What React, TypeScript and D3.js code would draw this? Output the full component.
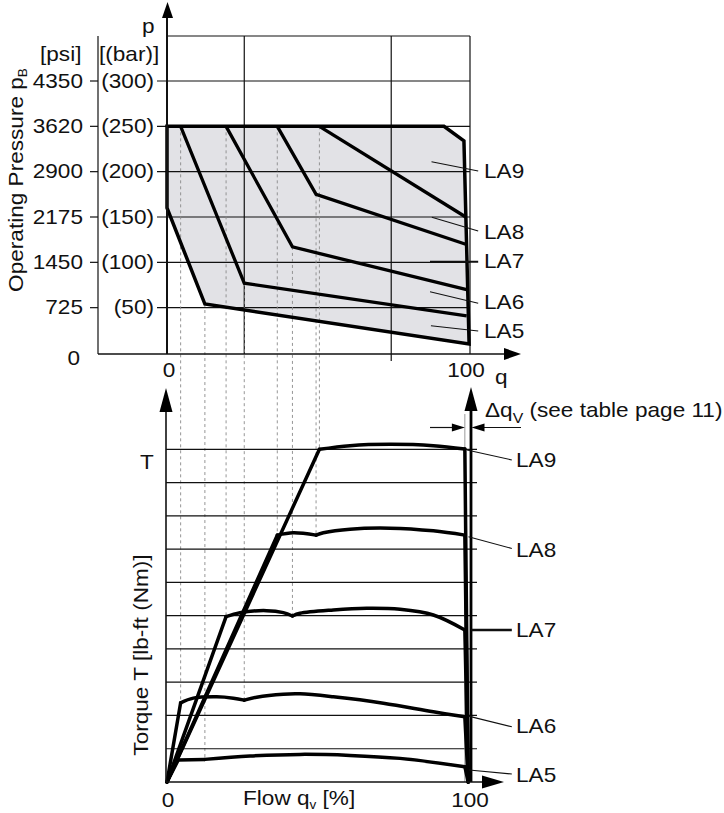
import React from "react";
import * as d3 from "d3";

// ---------- DATA ----------
const barTicks = [50, 100, 150, 200, 250, 300];
const psiTicks = ["725", "1450", "2175", "2900", "3620", "4350"];
const qGridTop = [25.5, 74];
const torqueGrid = [1, 2, 3, 4, 5, 6, 7, 8, 9, 10];

// envelope (q %, p bar)
const envelope: [number, number][] = [
  [0, 250], [91.4, 250], [98, 234], [99.7, 10], [12.5, 54], [0, 160],
];
const boundary1: [number, number][] = [[4.5, 250], [25.5, 77], [98.9, 41]];
const boundary2: [number, number][] = [[19.5, 250], [41.4, 117], [98.9, 70]];
const boundary3: [number, number][] = [[36.4, 250], [49.2, 175], [98.6, 120]];
const boundary4: [number, number][] = [[50.3, 250], [98.6, 150]];

// torque curves (q %, T in grid units), split at kinks
const LA5: [number, number][][] = [
  [[3.7, 0.66], [12.5, 0.68]],
  [[12.5, 0.68], [27.4, 0.78], [43.9, 0.83], [60.4, 0.8], [76.9, 0.71], [98.3, 0.46]],
];
const LA6: [number, number][][] = [
  [[4.5, 2.38], [8.7, 2.52], [16.4, 2.56], [21.9, 2.52], [25.5, 2.46]],
  [[25.5, 2.46], [29.6, 2.55], [38.4, 2.64], [43.9, 2.65], [54.9, 2.56], [71.4, 2.37], [87.9, 2.11], [98.3, 1.96]],
];
const LA7: [number, number][][] = [
  [[19.5, 4.97], [24.1, 5.09], [32.9, 5.15], [38.4, 5.09], [41.4, 4.99]],
  [[41.4, 4.99], [43.9, 5.07], [54.9, 5.17], [65.9, 5.22], [76.9, 5.19], [87.9, 5.02], [98.3, 4.57]],
];
const LA8: [number, number][][] = [
  [[36.4, 7.42], [41.7, 7.49], [49.2, 7.42]],
  [[49.2, 7.42], [51.6, 7.49], [60.4, 7.6], [73.6, 7.63], [87.9, 7.55], [98.3, 7.42]],
];
const LA9: [number, number][][] = [
  [[50.3, 10.0], [60.4, 10.11], [73.6, 10.15], [87.9, 10.11], [98.3, 10.01]],
];
const curves = [LA5, LA6, LA7, LA8, LA9];
const dropEndQ = 99.4;
const deltaQ = 98.3;

// guides: q, p (top), T (bottom)
const guides: [number, number, number][] = [
  [4.5, 250, 2.38], [12.5, 54, 0.68], [19.5, 250, 4.97], [25.5, 77, 2.46],
  [36.4, 250, 7.42], [41.4, 117, 4.99], [49.2, 175, 7.42], [50.3, 250, 10.0],
];

const labelNames = ["LA9", "LA8", "LA7", "LA6", "LA5"];
// top labels: from [q,p] -> to [q,p], text p
const topLeaders: [number, number, number, number][] = [
  [87.3, 211, 102.7, 200.7], [87.4, 149.7, 102.7, 134.5], [86.8, 100.7, 102.7, 100.7],
  [86.8, 67.6, 102.7, 54.8], [87.1, 30.1, 102.7, 24.3],
];
const topTextP = [200.7, 132.7, 100.7, 55.5, 24.3];
const botLeaders: [number, number, number, number][] = [
  [99, 9.98, 113.8, 9.68], [99.5, 7.37, 113.8, 7.02], [100.5, 4.57, 113.8, 4.57],
  [99.5, 1.98, 113.8, 1.66], [99.7, 0.36, 113.8, 0.24],
];
const botTextT = [9.68, 6.97, 4.57, 1.66, 0.19];

// ---------- LAYOUT ----------
const W = 724, H = 813;
const x = d3.scaleLinear().domain([0, 100]).range([167, 470]);
const yT = d3.scaleLinear().domain([0, 300]).range([353, 81]);
const yB = d3.scaleLinear().domain([0, 10]).range([782, 449.3]);
const SX = 1.13;
const FS = 20;
const FONT = "'Liberation Sans', Arial, Helvetica, sans-serif";

const lineTop = d3.line<[number, number]>().x(d => x(d[0])).y(d => yT(d[1]));
const lineBot = d3.line<[number, number]>().x(d => x(d[0])).y(d => yB(d[1]));
const smoothBot = d3.line<[number, number]>().x(d => x(d[0])).y(d => yB(d[1])).curve(d3.curveCatmullRom.alpha(0.5));

function Txt(props: any) {
  const { x: tx, y: ty, anchor = "start", size = FS, rotate = 0, baseline, children } = props;
  return (
    <text
      transform={`translate(${tx},${ty})${rotate ? ` rotate(${rotate})` : ""} scale(${SX},1)`}
      textAnchor={anchor}
      fontSize={size}
      dominantBaseline={baseline}
      fill="#111"
    >
      {children}
    </text>
  );
}

function arrowUp(cx: number, tip: number, w: number, h: number) {
  return `${cx},${tip} ${cx - w / 2},${tip + h} ${cx + w / 2},${tip + h}`;
}
function arrowRight(tip: number, cy: number, w: number, h: number) {
  return `${tip},${cy} ${tip - h},${cy - w / 2} ${tip - h},${cy + w / 2}`;
}
function arrowLeft(tip: number, cy: number, w: number, h: number) {
  return `${tip},${cy} ${tip + h},${cy - w / 2} ${tip + h},${cy + w / 2}`;
}

export default function App() {
  const boxL = 98, boxT = 36, boxR = x(100), boxB = 354;
  const botAxisY = yB(0);
  const q100 = x(100) + 1;
  return (
    <svg width={W} height={H} style={{ position: "absolute", left: 0, top: 0, background: "#fff" }} fontFamily={FONT}>
      <rect width={W} height={H} fill="#fff" />
      {/* ===== TOP CHART ===== */}
      <path d={lineTop(envelope) + "Z"} fill="#e2e2e6" stroke="none" />
      {/* frame */}
      <line x1={boxL} y1={boxT} x2={boxL} y2={boxB} stroke="#111" strokeWidth={1.2} />
      <line x1={x(0)} y1={boxT} x2={boxR} y2={boxT} stroke="#111" strokeWidth={1.2} />
      <line x1={boxR} y1={boxT} x2={boxR} y2={boxB} stroke="#111" strokeWidth={1.2} />
      {/* grid */}
      {barTicks.map((b, i) => (
        <g key={"bg" + b}>
          <line x1={157} x2={boxR} y1={yT(b)} y2={yT(b)} stroke="#111" strokeWidth={1.2} />
          <line x1={90} x2={boxL} y1={yT(b)} y2={yT(b)} stroke="#111" strokeWidth={1.2} />
          <Txt x={83} y={yT(b)} anchor="end" baseline="central">{psiTicks[i]}</Txt>
          <Txt x={154} y={yT(b)} anchor="end" baseline="central">{`(${b})`}</Txt>
        </g>
      ))}
      {qGridTop.map((q, i) => (
        <line key={"qg" + q} x1={x(q)} x2={x(q)} y1={boxT} y2={i === 1 ? boxB + 7 : boxB} stroke="#111" strokeWidth={1.2} />
      ))}
      {/* dashed guides */}
      {guides.map((g, i) => (
        <line key={"gd" + i} x1={x(g[0])} x2={x(g[0])} y1={yT(g[1])} y2={yB(g[2])} stroke="#8a8a8a" strokeWidth={0.9} strokeDasharray="3,3" />
      ))}
      {/* envelope & boundaries */}
      <path d={lineTop(envelope) + "Z"} fill="none" stroke="#000" strokeWidth={3.5} strokeLinejoin="miter" />
      {[boundary1, boundary2, boundary3, boundary4].map((b, i) => (
        <path key={"b" + i} d={lineTop(b) || ""} fill="none" stroke="#000" strokeWidth={3.3} />
      ))}
      {/* axes top */}
      <line x1={x(0)} x2={x(0)} y1={boxB} y2={14} stroke="#111" strokeWidth={2} />
      <polygon points={arrowUp(x(0) + 0.5, 2, 11, 16)} fill="#000" />
      <line x1={boxL} x2={508} y1={boxB} y2={boxB} stroke="#111" strokeWidth={1.6} />
      <polygon points={arrowRight(521, boxB, 12, 17)} fill="#000" />
      {/* top labels */}
      <Txt x={40} y={61}>[psi]</Txt>
      <Txt x={99} y={61}>[(bar)]</Txt>
      <Txt x={142} y={33}>p</Txt>
      <Txt x={80} y={358} anchor="end" baseline="central">0</Txt>
      <Txt x={169} y={370} anchor="middle" baseline="central">0</Txt>
      <Txt x={466} y={370} anchor="middle" baseline="central">100</Txt>
      <Txt x={495} y={384}>q</Txt>
      <text transform={`translate(23,180) rotate(-90) scale(${SX},1)`} textAnchor="middle" fontSize={FS} fill="#111">
        Operating Pressure p<tspan fontSize={12} dy={4}>B</tspan>
      </text>
      {topLeaders.map((l, i) => (
        <g key={"tl" + i}>
          <line x1={x(l[0])} y1={yT(l[1])} x2={x(l[2])} y2={yT(l[3])} stroke="#111" strokeWidth={i === 2 ? 2 : 1.1} />
          <Txt x={484} y={yT(topTextP[i])} baseline="central">{labelNames[i]}</Txt>
        </g>
      ))}

      {/* ===== BOTTOM CHART ===== */}
      {torqueGrid.map(t => (
        <line key={"tg" + t} x1={166} x2={477} y1={yB(t)} y2={yB(t)} stroke="#111" strokeWidth={1.2} />
      ))}
      {/* delta q gray line */}
      <line x1={x(deltaQ)} x2={x(deltaQ)} y1={414} y2={botAxisY} stroke="#999" strokeWidth={1} />
      {/* curves */}
      {curves.map((segs, ci) => {
        const first = segs[0][0];
        const lastSeg = segs[segs.length - 1];
        const last = lastSeg[lastSeg.length - 1];
        return (
          <g key={"c" + ci} fill="none" stroke="#000" strokeWidth={3.5} strokeLinejoin="round" strokeLinecap="round">
            <path d={lineBot([[0, 0], first]) || ""} />
            {segs.map((s, si) => (
              <path key={si} d={(s.length > 2 ? smoothBot(s) : lineBot(s)) || ""} />
            ))}
            <path d={lineBot([last, [dropEndQ, 0]]) || ""} />
          </g>
        );
      })}
      {/* axes bottom */}
      <line x1={166} x2={166} y1={botAxisY} y2={405} stroke="#111" strokeWidth={1.6} />
      <polygon points={arrowUp(166, 388, 13, 24)} fill="#000" />
      <line x1={q100} x2={q100} y1={botAxisY} y2={405} stroke="#000" strokeWidth={2.8} />
      <polygon points={arrowUp(q100, 387, 13, 24)} fill="#000" />
      <line x1={166} x2={488} y1={botAxisY} y2={botAxisY} stroke="#111" strokeWidth={1.6} />
      <polygon points={arrowRight(504, botAxisY, 13, 22)} fill="#000" />
      {/* delta q arrows */}
      <line x1={430} x2={455} y1={427.5} y2={427.5} stroke="#111" strokeWidth={1.2} />
      <polygon points={arrowRight(x(deltaQ), 427.5, 8, 13)} fill="#000" />
      <line x1={484} x2={521} y1={427.5} y2={427.5} stroke="#111" strokeWidth={1.2} />
      <polygon points={arrowLeft(q100 + 0.5, 427.5, 8, 13)} fill="#000" />
      <text transform={`translate(485,417) scale(${SX},1)`} fontSize={FS} fill="#111">
        Δq<tspan fontSize={14} dy={6}>V</tspan><tspan dy={-6}> (see table page 11)</tspan>
      </text>
      {/* bottom labels */}
      <Txt x={140} y={469}>T</Txt>
      <text transform={`translate(148,655) rotate(-90) scale(${SX},1)`} textAnchor="middle" fontSize={FS} fill="#111">
        Torque T [lb-ft (Nm)]
      </text>
      <Txt x={168} y={800} anchor="middle" baseline="central">0</Txt>
      <Txt x={470} y={800} anchor="middle" baseline="central">100</Txt>
      <text transform={`translate(243,805) scale(${SX},1)`} fontSize={FS} fill="#111">
        Flow q<tspan fontSize={12} dy={4}>v</tspan><tspan dy={-4}> [%]</tspan>
      </text>
      {botLeaders.map((l, i) => (
        <g key={"bl" + i}>
          <line x1={x(l[0])} y1={yB(l[1])} x2={x(l[2])} y2={yB(l[3])} stroke="#111" strokeWidth={i === 2 ? 2.4 : 1.1} />
          <Txt x={516} y={yB(botTextT[i])} baseline="central">{labelNames[i]}</Txt>
        </g>
      ))}
    </svg>
  );
}
